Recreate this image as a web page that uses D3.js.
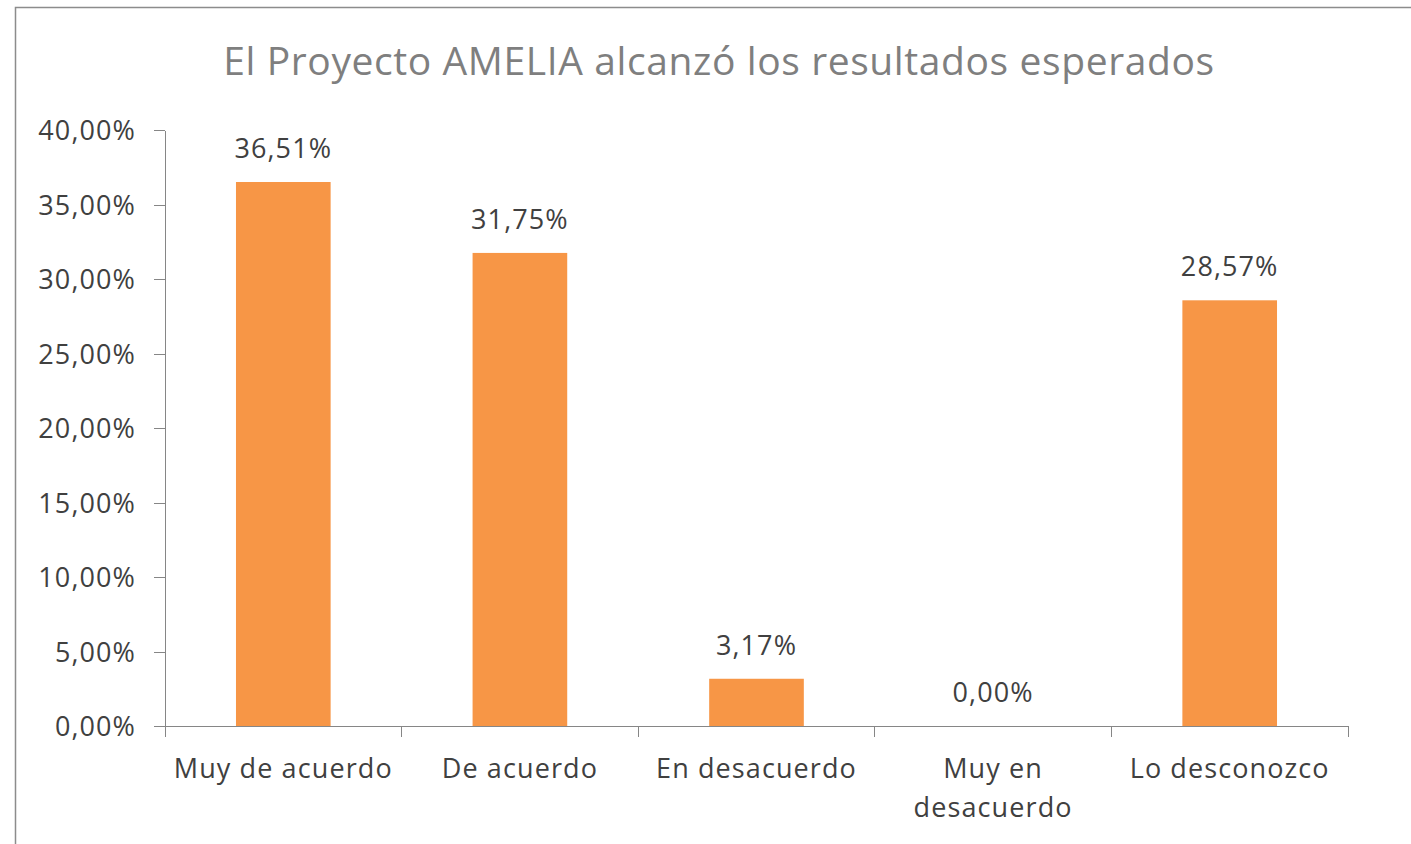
<!DOCTYPE html>
<meta charset="utf-8">
<style>
body { margin: 0; background: #fff; }
.axis path,
.axis line {
    fill: none;
    stroke: #868686;
    shape-rendering: crispEdges;
}
.axis text, .lbl {
    font-family: "Open Sans", sans-serif;
    font-size: 27px;
    letter-spacing: 1.1px;
    fill: #404040;
}
</style>

<script src="https://d3js.org/d3.v7.min.js"></script>

<body>
<div id="chart"></div>
<script>
    // data
    var categories = ["Muy de acuerdo", "De acuerdo", "En desacuerdo", "Muy en desacuerdo", "Lo desconozco"];
    var values = [36.51, 31.75, 3.17, 0.00, 28.57];
    var yTicks = [0, 5, 10, 15, 20, 25, 30, 35, 40];
    var title = "El Proyecto AMELIA alcanzó los resultados esperados";

    var W = 1411, H = 844;
    var margin = {top: 130, right: 63, bottom: 118, left: 165},
        width = W - margin.left - margin.right,
        height = H - margin.top - margin.bottom;

    var es = d3.formatLocale({decimal: ",", thousands: ".", grouping: [3], currency: ["", "€"]});
    var pct = function(v) { return es.format(".2f")(v) + "%"; };

    var root = d3.select("#chart").append("svg")
        .attr("width", W)
        .attr("height", H);

    // chart frame (right and bottom edges fall outside the picture)
    root.append("rect")
        .attr("x", 15.5).attr("y", 7.5)
        .attr("width", W + 20).attr("height", H + 20)
        .attr("fill", "none")
        .attr("stroke", "#8c8c8c")
        .attr("stroke-width", 1.5);

    root.append("text")
        .attr("x", 719).attr("y", 75)
        .attr("text-anchor", "middle")
        .style("font-family", "'Open Sans', sans-serif")
        .style("font-size", "39px")
        .style("letter-spacing", "0.6px")
        .style("fill", "#7f7f7f")
        .text(title);

    var svg = root.append("g")
        .attr("transform", "translate(" + margin.left + "," + margin.top + ")");

    var x = d3.scaleBand()
        .domain(categories)
        .range([0, width])
        .paddingInner(0.6)
        .paddingOuter(0.3);

    var y = d3.scaleLinear()
        .domain([0, 40])
        .range([height, 0]);

    // Y axis
    svg.append("g")
        .attr("class", "axis")
        .call(d3.axisLeft(y).tickValues(yTicks).tickFormat(pct).tickSize(11).tickSizeOuter(0).tickPadding(18))
        .call(function(g) { g.selectAll("text").attr("dy", "0.36em"); });

    // X axis: line plus ticks between categories
    var gx = svg.append("g")
        .attr("class", "axis")
        .attr("transform", "translate(0," + height + ")");
    gx.append("line")
        .attr("x1", 0).attr("x2", width)
        .attr("y1", 0).attr("y2", 0);
    var edges = categories.map(function(d) { return x(d) - x.step() * x.paddingInner() / 2; });
    edges.push(width);
    gx.selectAll(".tk")
        .data(edges)
        .enter().append("line")
        .attr("x1", function(d) { return d; })
        .attr("x2", function(d) { return d; })
        .attr("y1", 0).attr("y2", 11);

    // category labels, wrapped when wider than a band
    gx.selectAll(".cat")
        .data(categories)
        .enter().append("text")
        .attr("class", "lbl")
        .attr("text-anchor", "middle")
        .attr("x", function(d) { return x(d) + x.bandwidth() / 2; })
        .attr("y", 52)
        .each(function(d) {
            var t = d3.select(this), words = d.split(" "), line = [], lines = [];
            words.forEach(function(w) {
                line.push(w);
                t.text(line.join(" "));
                if (this.getComputedTextLength() > x.step() - 10 && line.length > 1) {
                    line.pop();
                    lines.push(line.join(" "));
                    line = [w];
                }
            }, this);
            lines.push(line.join(" "));
            t.text(null);
            lines.forEach(function(l, i) {
                t.append("tspan")
                    .attr("x", x(d) + x.bandwidth() / 2)
                    .attr("dy", i ? 39 : 0)
                    .text(l);
            });
        });

    // bars
    svg.append("g")
        .selectAll("rect")
        .data(values)
        .enter()
        .append("rect")
        .attr("x", function(d, i) { return x(categories[i]); })
        .attr("width", x.bandwidth())
        .attr("y", function(d) { return y(d); })
        .attr("height", function(d) { return height - y(d); })
        .style("fill", "#f79646");

    // value labels
    svg.append("g")
        .selectAll("text")
        .data(values)
        .enter()
        .append("text")
        .attr("class", "lbl")
        .attr("text-anchor", "middle")
        .attr("x", function(d, i) { return x(categories[i]) + x.bandwidth() / 2; })
        .attr("y", function(d) { return y(d) - 24; })
        .text(pct);
</script>
</body>
